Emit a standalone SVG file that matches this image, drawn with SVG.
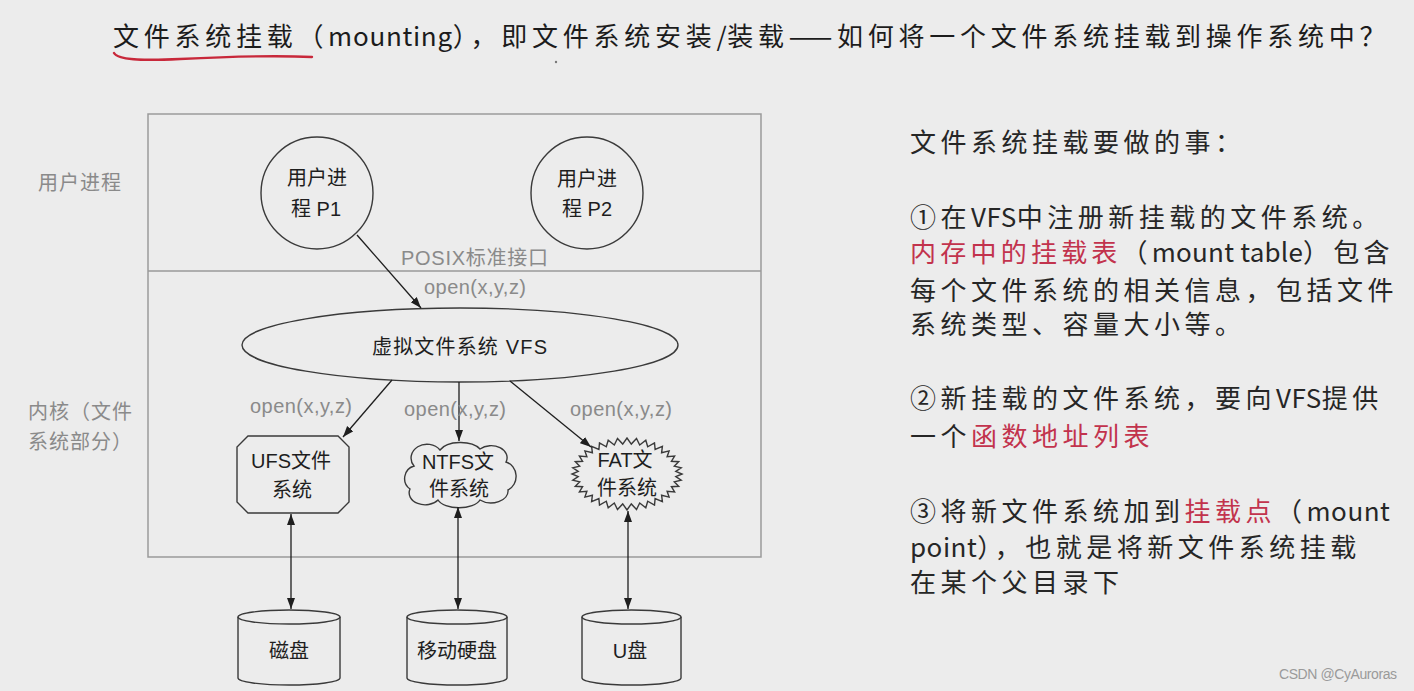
<svg xmlns="http://www.w3.org/2000/svg" width="1414" height="691" viewBox="0 0 1414 691">
<style>
.slide{font-family:"Noto Sans CJK SC","Noto Sans",sans-serif;font-size:26px;fill:#262626;letter-spacing:4.5px}
.lat{letter-spacing:0.5px}
.red{fill:#c2334d}
.lbl{font-family:"Liberation Sans","Noto Sans CJK SC",sans-serif;font-size:20px;fill:#8a8a8a}
.nt{font-family:"Liberation Sans","Noto Sans CJK SC",sans-serif;font-size:20px;fill:#1e1e1e;text-anchor:middle}
.shape{fill:none;stroke:#3a3a3a;stroke-width:1.4}
.frame{fill:none;stroke:#9a9a9a;stroke-width:1.5}
.conn{fill:none;stroke:#1e1e1e;stroke-width:1.3}
</style>
<defs>
<marker id="ah" markerUnits="userSpaceOnUse" markerWidth="12" markerHeight="9" refX="11" refY="4" orient="auto-start-reverse">
<path d="M0,0 L11,4 L0,8 Z" fill="#1e1e1e"/>
</marker>
</defs>
<rect x="0" y="0" width="1414" height="691" fill="#ececec"/>

<g id="title">
<text class="slide" x="113" y="46" style="fill:#1c1c1c" textLength="1277" lengthAdjust="spacing">文件系统挂载（<tspan class="lat">mounting</tspan>），即文件系统安装<tspan class="lat">/</tspan>装载——如何将一个文件系统挂载到操作系统中？</text>
<path d="M114,53 C118,60 140,61 180,59 C220,57 270,55 312,57" fill="none" stroke="#c8283a" stroke-width="2.4" stroke-linecap="round"/>
<circle cx="556" cy="62" r="1.2" fill="#777"/>
</g>

<g id="frame">
<rect class="frame" x="148" y="114" width="613" height="443"/>
<line class="frame" x1="148" y1="271" x2="761" y2="271"/>
</g>

<g id="side-labels">
<text class="lbl" x="38" y="190" style="letter-spacing:1px">用户进程</text>
<text class="lbl" x="28" y="419" style="letter-spacing:1px">内核（文件</text>
<text class="lbl" x="28" y="449" style="letter-spacing:1px">系统部分）</text>
</g>

<g id="p1">
<circle class="shape" cx="317" cy="193" r="56"/>
<text class="nt" x="317" y="185">用户进</text>
<text class="nt" x="316" y="216">程 P1</text>
</g>
<g id="p2">
<circle class="shape" cx="587" cy="193" r="56"/>
<text class="nt" x="587" y="186">用户进</text>
<text class="nt" x="587" y="216">程 P2</text>
</g>

<g id="vfs">
<ellipse class="shape" cx="460" cy="345" rx="218" ry="37"/>
<text class="nt" x="372" y="354" style="text-anchor:start" textLength="175" lengthAdjust="spacing">虚拟文件系统 VFS</text>
</g>

<g id="ufs">
<path class="shape" d="M248,436 L338,436 L349,447 L349,502 L338,513 L248,513 L237,502 L237,447 Z"/>
<text class="nt" x="291" y="468">UFS文件</text>
<text class="nt" x="292" y="497">系统</text>
</g>

<g id="ntfs">
<path class="shape" d="M414,466 A15,13 0 0 1 440,450 A22,12 0 0 1 480,449 A16,12 0 0 1 506,462 A14,15 0 0 1 508,490 A17,12 0 0 1 480,500 A22,11 0 0 1 438,500 A16,12 0 0 1 410,489 A13,13 0 0 1 414,466 Z"/>
<text class="nt" x="458" y="469">NTFS文</text>
<text class="nt" x="459" y="496">件系统</text>
</g>

<g id="fat">
<polygon class="shape" points="682,474 675.8,476.6 681.2,480.2 674.3,481.8 678.7,486.3 671.4,486.7 674.6,492 667.1,491.2 669.1,497.1 661.6,495.2 662.4,501.6 655.1,498.6 654.5,505.2 647.7,501.2 645.8,507.8 639.7,503 636.5,509.5 631.3,503.9 627,510 622.7,503.9 617.5,509.5 614.3,503 608.2,507.8 606.3,501.2 599.5,505.2 598.9,498.6 591.6,501.6 592.4,495.2 584.9,497.1 586.9,491.2 579.4,492 582.6,486.7 575.3,486.3 579.7,481.8 572.8,480.2 578.2,476.6 572,474 578.2,471.4 572.8,467.8 579.7,466.2 575.3,461.7 582.6,461.3 579.4,456 586.9,456.8 584.9,450.9 592.4,452.8 591.6,446.4 598.9,449.4 599.5,442.8 606.3,446.8 608.2,440.2 614.3,445 617.5,438.5 622.7,444.1 627,438 631.3,444.1 636.5,438.5 639.7,445 645.8,440.2 647.7,446.8 654.5,442.8 655.1,449.4 662.4,446.4 661.6,452.8 669.1,450.9 667.1,456.8 674.6,456 671.4,461.3 678.7,461.7 674.3,466.2 681.2,467.8 675.8,471.4"/>
<text class="nt" x="625" y="467">FAT文</text>
<text class="nt" x="627" y="495">件系统</text>
</g>

<g id="disk1">
<path class="shape" d="M238,617 L238,678 A51,7 0 0 0 340,678 L340,617"/>
<ellipse class="shape" cx="289" cy="617" rx="51" ry="7"/>
<text class="nt" x="289" y="658">磁盘</text>
</g>
<g id="disk2">
<path class="shape" d="M407,617 L407,678 A50,7 0 0 0 507,678 L507,617"/>
<ellipse class="shape" cx="457" cy="617" rx="50" ry="7"/>
<text class="nt" x="457" y="658">移动硬盘</text>
</g>
<g id="disk3">
<path class="shape" d="M582,617 L582,678 A49.5,7 0 0 0 681,678 L681,617"/>
<ellipse class="shape" cx="631.5" cy="617" rx="49.5" ry="7"/>
<text class="nt" x="630" y="658">U盘</text>
</g>

<g id="connectors">
<line class="conn" x1="357" y1="235" x2="421" y2="308" marker-end="url(#ah)"/>
<line class="conn" x1="392" y1="380" x2="343" y2="437" marker-end="url(#ah)"/>
<line class="conn" x1="459" y1="382" x2="459" y2="441" marker-end="url(#ah)"/>
<line class="conn" x1="510" y1="381" x2="591" y2="447" marker-end="url(#ah)"/>
<line class="conn" x1="291" y1="514" x2="291" y2="609" marker-start="url(#ah)" marker-end="url(#ah)"/>
<line class="conn" x1="458" y1="507" x2="458" y2="609" marker-start="url(#ah)" marker-end="url(#ah)"/>
<line class="conn" x1="628" y1="511" x2="628" y2="609" marker-start="url(#ah)" marker-end="url(#ah)"/>
</g>

<g id="connector-labels">
<text class="lbl" x="401" y="265" textLength="147" lengthAdjust="spacing">POSIX标准接口</text>
<text class="lbl" x="424" y="294" textLength="102" lengthAdjust="spacing">open(x,y,z)</text>
<text class="lbl" x="250" y="413" textLength="102" lengthAdjust="spacing">open(x,y,z)</text>
<text class="lbl" x="404" y="416" textLength="102" lengthAdjust="spacing">open(x,y,z)</text>
<text class="lbl" x="570" y="416" textLength="102" lengthAdjust="spacing">open(x,y,z)</text>
</g>

<g id="notes">
<text class="slide" x="910" y="152">文件系统挂载要做的事：</text>
<text class="slide" x="910" y="227">①在<tspan class="lat">VFS</tspan>中注册新挂载的文件系统。</text>
<text class="slide" x="910" y="262" textLength="484" lengthAdjust="spacing"><tspan class="red">内存中的挂载表</tspan>（<tspan class="lat">mount table</tspan>）包含</text>
<text class="slide" x="910" y="300">每个文件系统的相关信息，包括文件</text>
<text class="slide" x="910" y="334">系统类型、容量大小等。</text>
<text class="slide" x="910" y="408">②新挂载的文件系统，要向<tspan class="lat">VFS</tspan>提供</text>
<text class="slide" x="910" y="446">一个<tspan class="red">函数地址列表</tspan></text>
<text class="slide" x="910" y="521">③将新文件系统加到<tspan class="red">挂载点</tspan>（<tspan class="lat">mount</tspan></text>
<text class="slide" x="910" y="557"><tspan class="lat">point</tspan>），也就是将新文件系统挂载</text>
<text class="slide" x="910" y="592">在某个父目录下</text>
</g>

<text x="1279" y="679" font-family="Liberation Sans, sans-serif" font-size="14" fill="#9a9a9a" textLength="118" lengthAdjust="spacing">CSDN @CyAuroras</text>
</svg>
